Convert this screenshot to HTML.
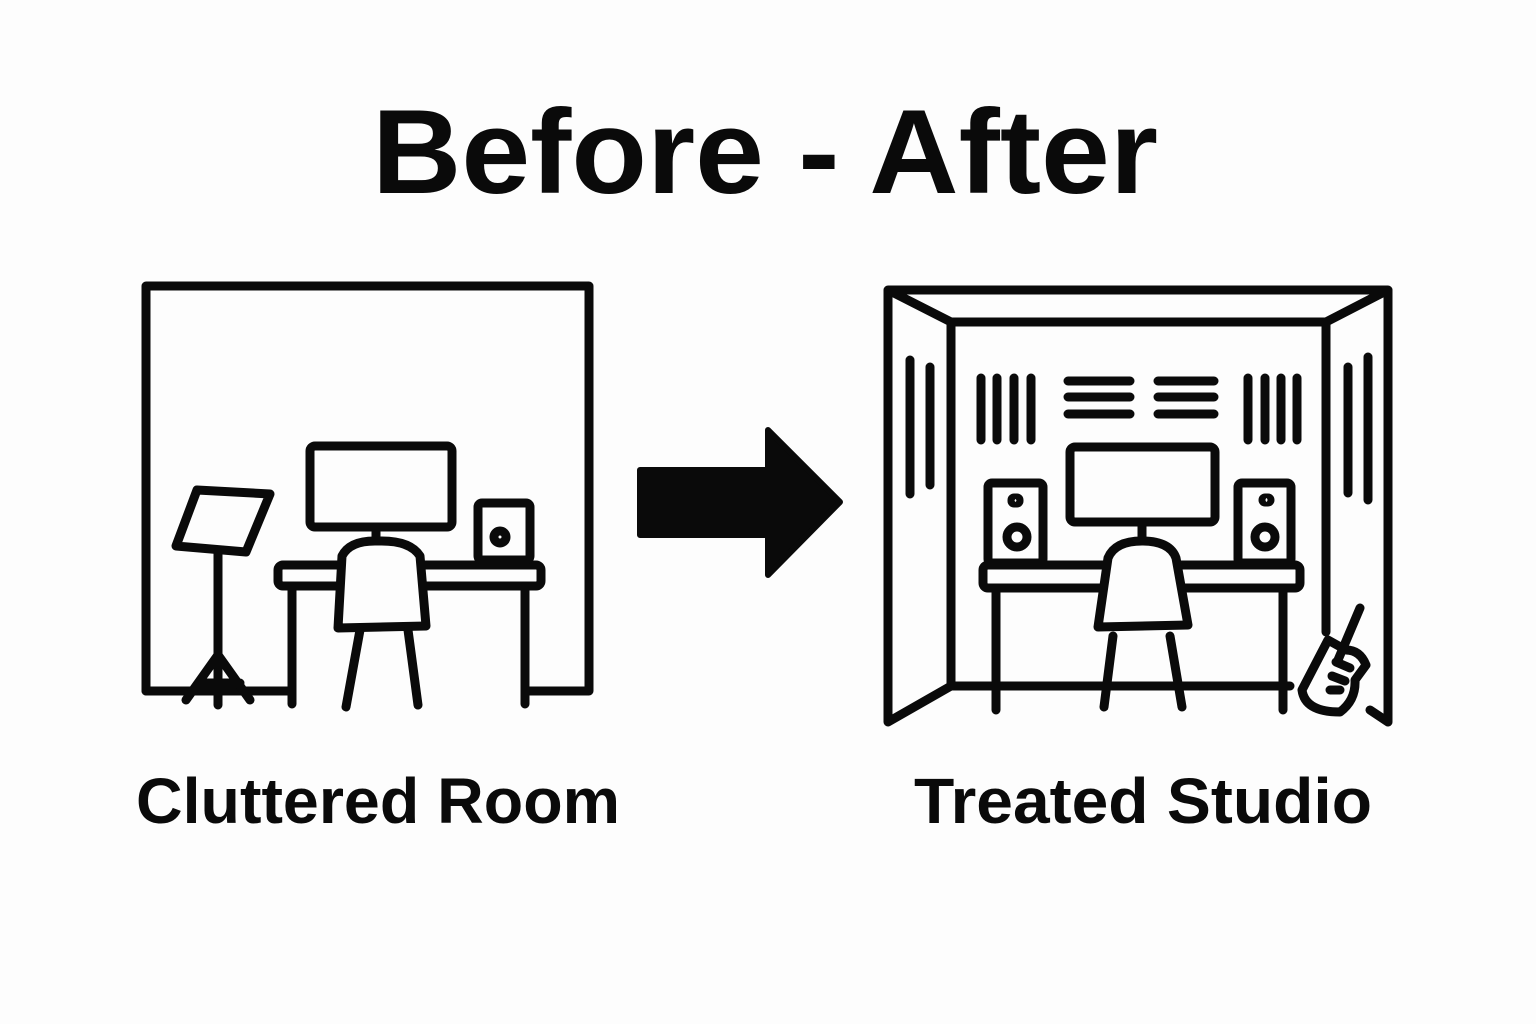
<!DOCTYPE html>
<html><head><meta charset="utf-8"><style>html,body{margin:0;padding:0;background:#fdfdfd}svg{display:block}</style></head>
<body>
<svg width="1536" height="1024" viewBox="0 0 1536 1024" xmlns="http://www.w3.org/2000/svg">
<rect width="1536" height="1024" fill="#fdfdfd"/>
<g font-family="Liberation Sans, Arial, sans-serif" font-weight="bold" fill="#0a0a0a">
<text x="372" y="193" font-size="120" textLength="786" lengthAdjust="spacingAndGlyphs">Before - After</text>
<text x="136" y="823" font-size="64" textLength="484" lengthAdjust="spacingAndGlyphs">Cluttered Room</text>
<text x="914" y="823" font-size="64" textLength="458" lengthAdjust="spacingAndGlyphs">Treated Studio</text>
</g>
<g fill="none" stroke="#0a0a0a" stroke-width="9" stroke-linecap="round" stroke-linejoin="round">
<!-- Left room -->
<path d="M146 691 V286 H589 V691 H528"/>
<path d="M146 691 H288"/>
<rect x="310" y="446" width="142" height="81" rx="5"/>
<path d="M376 527 V541"/>
<rect x="278" y="565" width="263" height="21" rx="5"/>
<path d="M292 586 V704 M525 586 V704"/>
<rect x="478" y="503" width="52" height="57" rx="4"/>
<circle cx="500" cy="537" r="6"/>
<path d="M342 556 Q350 540 378 541 Q410 540 420 556 L426 626 L338 628 Z" fill="#fdfdfd"/>
<path d="M360 630 L346 707 M408 630 L418 705"/>
<path d="M197 490 L270 494 L246 552 L176 546 Z"/>
<path d="M218 552 V705 M218 655 L186 700 M218 655 L250 700 M200 683 H240"/>
<!-- Right room -->
<path d="M888 290 V722 L951 686 M888 290 L951 322 M888 290 H1388 V722 M1388 290 L1326 322 M1370 710 L1388 722"/>
<path d="M951 322 V686 H1290 M951 322 H1326 V632"/>
<path d="M910 360 V494 M930 367 V485 M1348 367 V493 M1368 357 V500"/>
<path d="M981 378 V440 M997 378 V440 M1014 378 V440 M1031 378 V440 M1248 378 V440 M1265 378 V440 M1281 378 V440 M1297 378 V440"/>
<path d="M1068 381 H1130 M1068 397 H1130 M1068 414 H1130 M1158 381 H1214 M1158 397 H1214 M1158 414 H1214"/>
<rect x="1070" y="447" width="145" height="75" rx="5"/>
<path d="M1142 522 V540"/>
<rect x="988" y="483" width="55" height="80" rx="4"/>
<rect x="1012" y="498" width="7" height="5" rx="2"/>
<circle cx="1017" cy="537" r="10"/>
<rect x="1238" y="483" width="53" height="80" rx="4"/>
<rect x="1263" y="498" width="7" height="4" rx="2"/>
<circle cx="1265" cy="537" r="10"/>
<rect x="983" y="565" width="317" height="23" rx="5"/>
<path d="M996 588 V710 M1283 588 V710"/>
<path d="M1108 558 Q1115 541 1142 541 Q1170 541 1176 558 L1188 625 L1098 627 Z" fill="#fdfdfd"/>
<path d="M1113 636 L1104 707 M1170 636 L1182 707"/>
<path d="M1360 608 L1338 660"/>
<path d="M1328 640 L1302 690 Q1305 712 1340 712 Q1356 700 1355 680 L1366 665 Q1360 650 1346 650 Z"/>
<path d="M1336 662 L1350 668 M1332 676 L1345 681 M1330 690 L1340 690"/>
</g>
<path d="M640 470 H768 V430 L840 502 L768 575 V535 H640 Z" fill="#0a0a0a" stroke="#0a0a0a" stroke-width="6" stroke-linejoin="round"/>
</svg>
</body></html>
